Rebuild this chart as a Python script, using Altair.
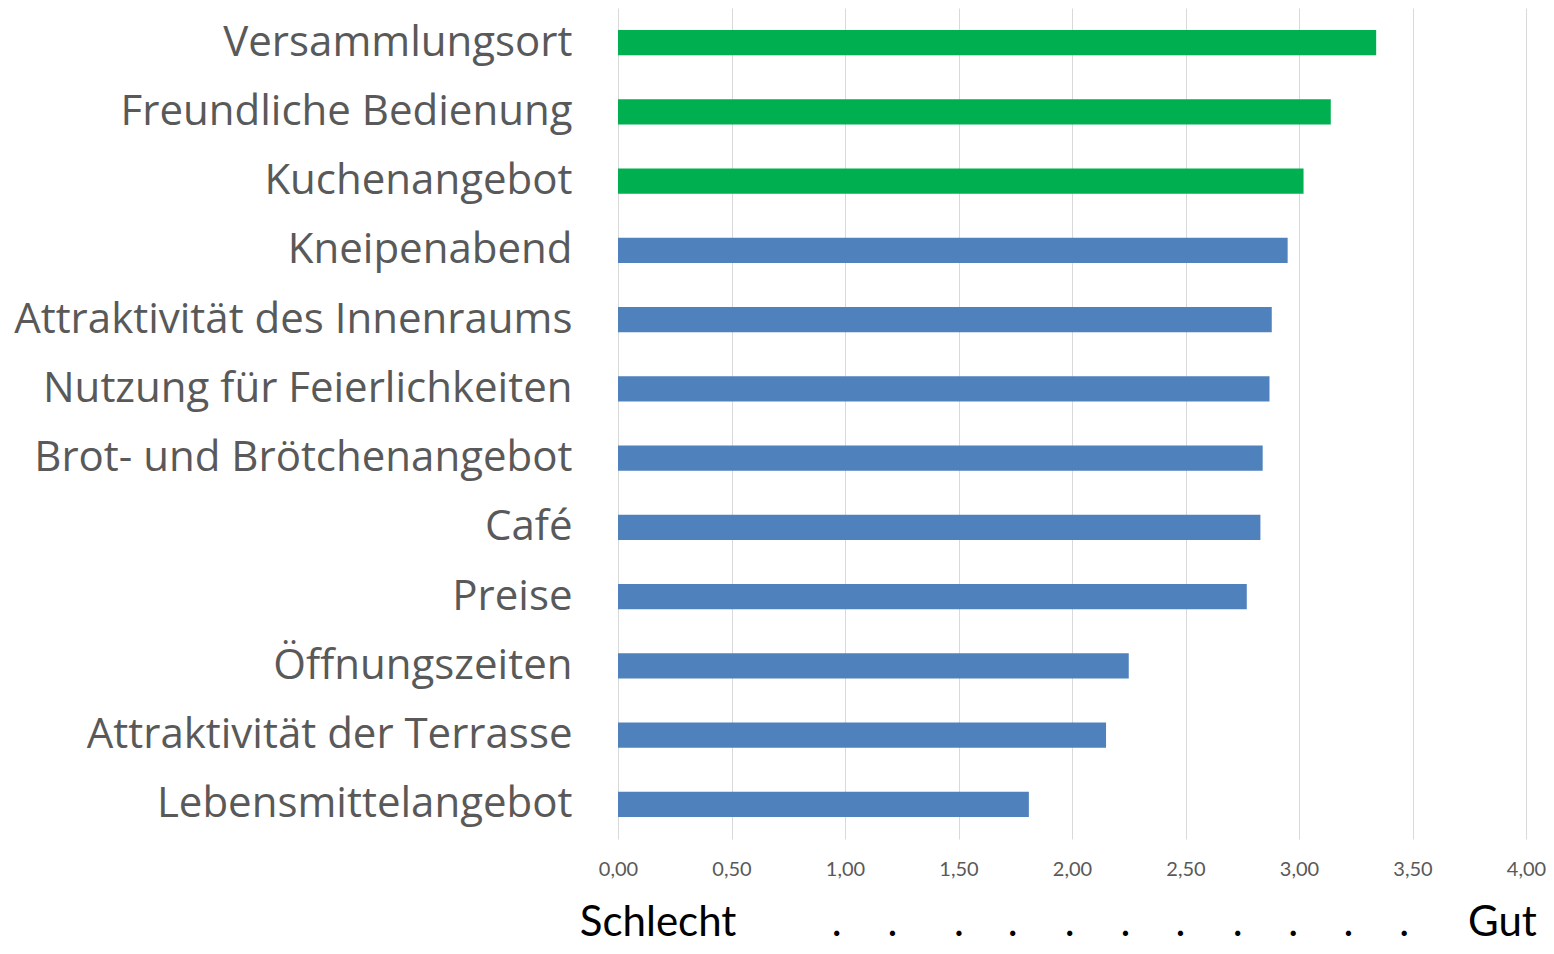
import altair as alt
import pandas as pd

categories = [
    "Versammlungsort", "Freundliche Bedienung", "Kuchenangebot", "Kneipenabend",
    "Attraktivität des Innenraums", "Nutzung für Feierlichkeiten",
    "Brot- und Brötchenangebot", "Café", "Preise", "Öffnungszeiten",
    "Attraktivität der Terrasse", "Lebensmittelangebot",
]
values = [3.34, 3.14, 3.02, 2.95, 2.88, 2.87, 2.84, 2.83, 2.77, 2.25, 2.15, 1.81]
groups = ["Top"] * 3 + ["Rest"] * 9
tick_values = [0, 0.5, 1.0, 1.5, 2.0, 2.5, 3.0, 3.5, 4.0]

# Rating scale annotation below the axis (words and their spot on the value scale)
scale_left_word = "Schlecht"
scale_right_word = "Gut"
scale_dot_at = [0.964, 1.209, 1.502, 1.739, 1.990, 2.236, 2.478, 2.730, 2.975, 3.218, 3.463]
scale_left_at = -0.168
scale_right_at = 4.048

df = pd.DataFrame({"Kategorie": categories, "Wert": values, "Gruppe": groups})

LABEL_GRAY = "#595959"
CAT_FONT = "Open Sans"
FONT = "Lato"

bars = alt.Chart(df).mark_bar().encode(
    x=alt.X(
        "Wert:Q",
        scale=alt.Scale(domain=[0, 4], nice=False, zero=True),
        axis=alt.Axis(
            values=tick_values,
            labelExpr="replace(format(datum.value, '.2f'), '.', ',')",
            grid=True, gridColor="#d9d9d9", gridWidth=1,
            domain=False, ticks=False, labelFlush=False,
            labelFont=FONT, labelFontSize=20, labelColor=LABEL_GRAY,
            labelPadding=20, title=None,
        ),
    ),
    y=alt.Y(
        "Kategorie:N",
        sort=categories,
        scale=alt.Scale(paddingInner=0.633, paddingOuter=0.3165),
        axis=alt.Axis(
            domain=False, ticks=False, grid=False,
            labelFont=CAT_FONT, labelFontSize=42, labelColor=LABEL_GRAY,
            labelPadding=46, labelLimit=700, title=None,
        ),
    ),
    color=alt.Color(
        "Gruppe:N",
        scale=alt.Scale(domain=["Top", "Rest"], range=["#00b050", "#4f81bd"]),
        legend=None,
    ),
)

ann_y = 928
ann_style = dict(baseline="alphabetic", font=FONT, fontSize=42, color="black")

left_word = alt.Chart(pd.DataFrame({"w": [scale_left_word], "x": [scale_left_at]})).mark_text(
    align="left", **ann_style
).encode(x="x:Q", y=alt.value(ann_y), text="w:N")

dots = alt.Chart(pd.DataFrame({"w": ["."] * len(scale_dot_at), "x": scale_dot_at})).mark_text(
    align="center", **ann_style
).encode(x="x:Q", y=alt.value(ann_y), text="w:N")

right_word = alt.Chart(pd.DataFrame({"w": [scale_right_word], "x": [scale_right_at]})).mark_text(
    align="right", **ann_style
).encode(x="x:Q", y=alt.value(ann_y), text="w:N")

chart = alt.layer(bars, left_word, dots, right_word).properties(
    width=908, height=831,
    autosize=alt.AutoSizeParams(type="none"),
    padding={"left": 610, "top": 0, "right": 20, "bottom": 106},
).configure_view(stroke=None)

chart.save("out.html", embed_options={"renderer": "svg", "actions": False})
